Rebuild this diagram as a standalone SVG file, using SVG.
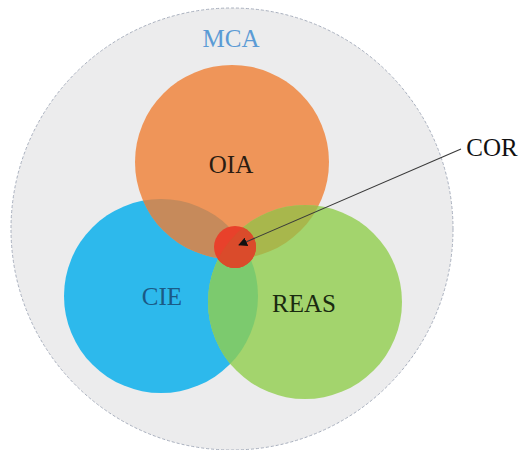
<svg xmlns="http://www.w3.org/2000/svg" width="521" height="450" viewBox="0 0 521 450">
  <style>
    .lbl { font-family: "Liberation Serif", "Times New Roman", serif; font-size: 25px; text-anchor: middle; }
    .conn { stroke: #3a3a3a; stroke-width: 1.1; fill: none; }
  </style>
  <defs>
    <clipPath id="clipCIE"><circle cx="161" cy="296" r="97"/></clipPath>
    <clipPath id="clipOIA"><circle cx="232" cy="162" r="97"/></clipPath>
    <clipPath id="clipREAS"><circle cx="305" cy="302" r="97"/></clipPath>
    <marker id="arrowHead" viewBox="0 0 10 10" refX="9" refY="5" markerWidth="9" markerHeight="9" markerUnits="userSpaceOnUse" orient="auto">
      <path d="M0,0 L10,5 L0,10 Z" fill="#111"/>
    </marker>
  </defs>

  <!-- outer set -->
  <g id="MCA">
    <circle cx="232" cy="229" r="221" fill="#ECECED" stroke="#A9B0BE" stroke-width="1" stroke-dasharray="3 2"/>
    <text class="lbl" x="231" y="47" fill="#5B9BD5" font-size="26">MCA</text>
  </g>

  <g id="CIE">
    <circle cx="161" cy="296" r="97" fill="#2DB9EC"/>
  </g>

  <g id="OIA">
    <circle cx="232" cy="162" r="97" fill="#EF9559"/>
    <!-- OIA ∩ CIE -->
    <circle cx="232" cy="162" r="97" fill="#C68A5B" clip-path="url(#clipCIE)"/>
  </g>

  <g id="REAS">
    <circle cx="305" cy="302" r="97" fill="#A3D46D"/>
    <!-- REAS ∩ CIE -->
    <circle cx="305" cy="302" r="97" fill="#7CCA6E" clip-path="url(#clipCIE)"/>
    <!-- REAS ∩ OIA -->
    <circle cx="305" cy="302" r="97" fill="#A8B74C" clip-path="url(#clipOIA)"/>
  </g>

  <g id="COR">
    <circle cx="235" cy="247" r="21" fill="#E8412B"/>
    <circle cx="235" cy="247" r="21" fill="#DA4B2B" clip-path="url(#clipREAS)"/>
    <text class="lbl" x="492" y="156" fill="#111">COR</text>
  </g>

  <!-- set labels -->
  <g id="labels">
    <text class="lbl" x="231" y="173" fill="#2A1C12">OIA</text>
    <text class="lbl" x="162" y="305" fill="#1B5A86">CIE</text>
    <text class="lbl" x="304" y="312" fill="#1A2A10">REAS</text>
  </g>

  <g id="connectors">
    <line class="conn" x1="461" y1="149" x2="239" y2="245" marker-end="url(#arrowHead)"/>
  </g>
</svg>
